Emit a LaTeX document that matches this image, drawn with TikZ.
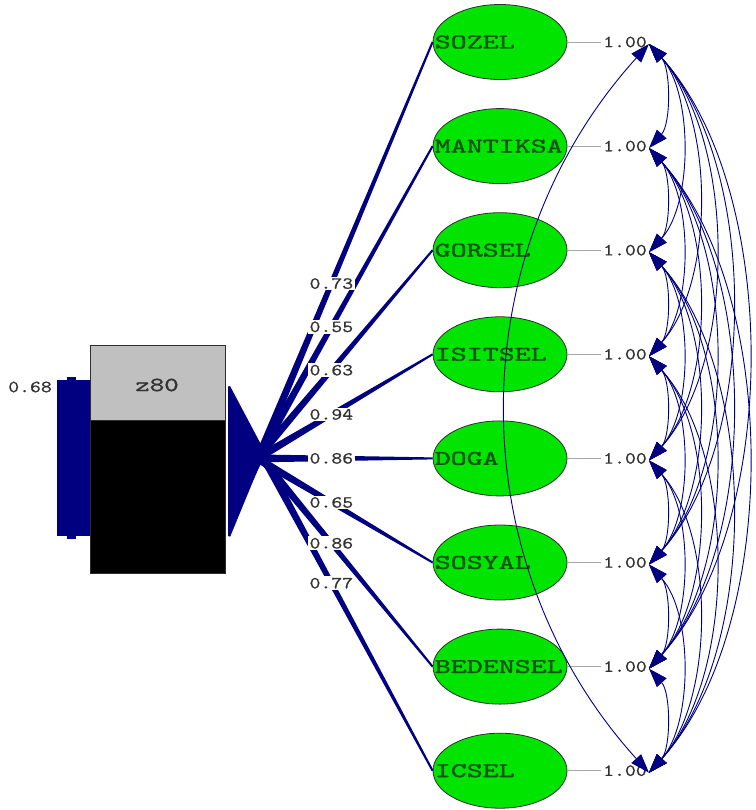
\documentclass[tikz,border=0pt]{standalone}
\usepackage{fontspec}
\usepackage{graphicx}
\usetikzlibrary{calc,arrows.meta,shapes.geometric}
\newfontfamily\lmmono[FakeBold=1.2]{lmmono10-regular.otf}
\newfontfamily\lmmonoN[FakeBold=0.6]{lmmono10-regular.otf}
\newcommand{\ftxt}[1]{\scalebox{1.45}[1]{\lmmono\fontsize{21}{21}\selectfont #1}}
\newcommand{\ntxt}[1]{\scalebox{1.22}[1]{\lmmonoN\fontsize{17}{17}\selectfont #1}}
\newcommand{\ztxt}[1]{\scalebox{1.38}[1]{\lmmonoN\fontsize{20}{20}\selectfont #1}}
\definecolor{pathblue}{RGB}{0,0,128}
\definecolor{ellgreen}{RGB}{0,228,0}
\definecolor{txtgreen}{RGB}{10,85,10}
\definecolor{numgray}{RGB}{50,50,50}
\definecolor{boxgray}{RGB}{192,192,192}
\definecolor{edgegray}{RGB}{45,45,45}
\begin{document}
\begin{tikzpicture}[x=1pt,y=-1pt,
  factor/.style={ellipse, draw=edgegray, line width=0.8pt, fill=ellgreen,
    minimum width=134pt, minimum height=75pt, inner sep=0pt},
  ftext/.style={anchor=west, inner sep=0pt, text=txtgreen},
  numlab/.style={inner sep=2pt, text=numgray},
  loadlab/.style={numlab, fill=white, inner sep=1.5pt},
  cov/.style={draw=pathblue, line width=0.9pt,
    {Triangle[length=19pt,width=13pt]}-{Triangle[length=19pt,width=13pt]}},
  varline/.style={draw=gray!70, line width=0.8pt},
  ]
\useasboundingbox (0,0) rectangle (755,810);

% factors, their texts, variance labels
\foreach \n/\y/\t in {1/42/SOZEL, 2/146.1/MANTIKSA, 3/250.2/GORSEL, 4/354.3/ISITSEL,
  5/458.4/DOGA, 6/562.5/SOSYAL, 7/666.6/BEDENSEL, 8/770.7/ICSEL} {
  \node[factor] (e\n) at (500,\y) {};
  \node[ftext] (t\n) at ($(e\n.west)+(2,0)$) {\ftxt{\t}};
  \node[numlab] (v\n) at (625,\y) {\ntxt{1.00}};
  \coordinate (p\n) at ($(v\n.east)+(0,2)$);
  \draw[varline] (e\n) -- (v\n);
}

% box z80
\node[draw=edgegray, fill=black, minimum width=135pt, minimum height=228pt,
  inner sep=0pt, anchor=north west, line width=0.8pt] (box) at (90,345) {};
\fill[boxgray] ($(box.north west)+(0.5,0.5)$) rectangle ($(box.north east)+(-0.5,75)$);
\draw[edgegray, line width=0.6pt] ($(box.north west)+(0,75)$) -- ($(box.north east)+(0,75)$);
\node[text={rgb,255:red,50;green,50;blue,50}] (zt) at (157,385) {\ztxt{z80}};

% error variance of z80
\fill[pathblue] (57,380) rectangle (box.west |- 0,536);
\fill[pathblue] (67,377) rectangle (76,381);
\fill[pathblue] (67,535) rectangle (76,539);
\node[numlab, inner sep=0pt] (var) at (30,387) {\ntxt{0.68}};

% end points of loadings on the box
\foreach \n/\y in {1/535,2/515,3/495,4/477,5/458.4,6/440,7/415,8/388}
  \coordinate (b\n) at (226,\y);

% loadings (tapered)
\begin{scope}
\clip (228,0) rectangle (755,810);
\foreach \n in {1,...,8} {
  \fill[pathblue] ($(e\n.west)!1pt!90:(b\n)$) -- ($(b\n)!4.5pt!-90:(e\n.west)$)
    -- ($(b\n)!4.5pt!90:(e\n.west)$) -- ($(e\n.west)!1pt!-90:(b\n)$) -- cycle;
}
\fill[pathblue] (226,382) -- (264,457) -- (226,538) -- cycle;
\end{scope}

\foreach \n/\v in {1/0.73,2/0.55,3/0.63,4/0.94,5/0.86,6/0.65,7/0.86,8/0.77}
  \node[loadlab] (l\n) at ($(e\n.west)!0.49!(b\n)$) {\ntxt{\v}};

% covariances
\foreach \i in {1,...,7} {
  \pgfmathtruncatemacro{\jstart}{\i+1}
  \foreach \j in {\jstart,...,8} {
    \pgfmathtruncatemacro{\skipit}{(\i==1)&&(\j==8)}
    \pgfmathsetmacro{\c}{22*(\j-\i)}
    \ifnum\skipit=0
      \draw[cov] (p\i) .. controls +(\c,1.1*\c) and +(\c,-1.1*\c) .. (p\j);
    \fi
  }
}
\draw[cov] (p1) .. controls +(-190,210) and +(-190,-210) .. (p8);
\end{tikzpicture}
\end{document}
